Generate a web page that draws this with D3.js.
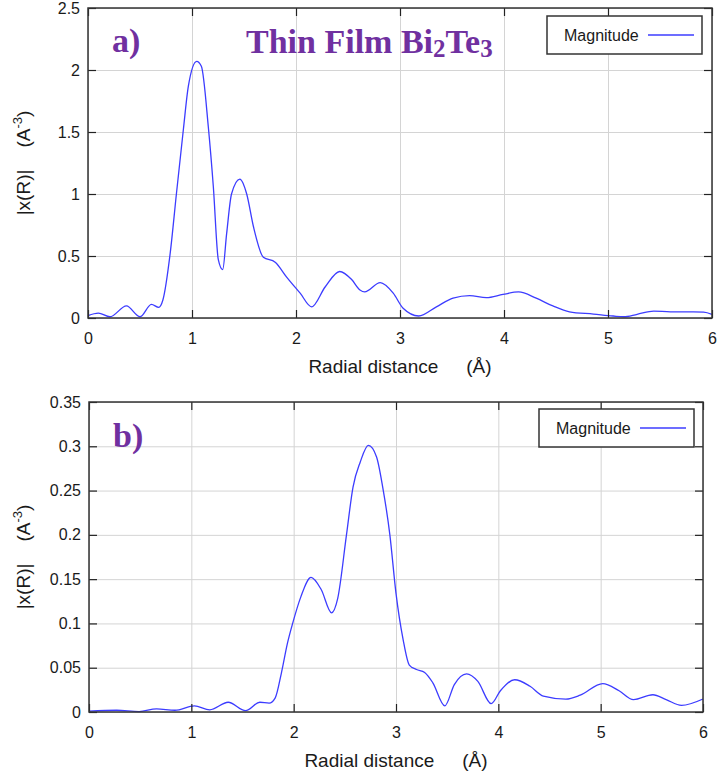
<!DOCTYPE html>
<html>
<head>
<meta charset="utf-8">
<script src="https://cdn.jsdelivr.net/npm/d3@7"></script>
<style>
  body { margin: 0; background: #fff; }
  svg text { font-family: "Liberation Sans", Arial, sans-serif; fill: #1a1a1a; }
  svg text.serif { font-family: "Liberation Serif", "Times New Roman", serif; font-weight: bold; fill: #7030a0; }
</style>
</head>
<body>
<div id="chart"></div>
<script>
// values
var xTicks = [0, 1, 2, 3, 4, 5, 6];

var aYTicks = [0, 0.5, 1, 1.5, 2, 2.5];
var aR = [0, 0.1, 0.21, 0.37, 0.5, 0.61, 0.68, 0.72, 0.79, 0.85, 0.917, 0.965, 1.045, 1.09, 1.157, 1.205, 1.253, 1.295, 1.333, 1.38, 1.46, 1.526, 1.59, 1.686, 1.80, 1.91, 2.04, 2.15, 2.28, 2.42, 2.535, 2.615, 2.66, 2.81, 2.935, 3.03, 3.18, 3.35, 3.51, 3.67, 3.83, 3.99, 4.14, 4.31, 4.47, 4.63, 4.86, 5.05, 5.15, 5.28, 5.44, 5.60, 5.82, 5.92, 6.0];
var aMag = [0.02, 0.04, 0.01, 0.097, 0.01, 0.11, 0.086, 0.145, 0.52, 1.0, 1.52, 1.87, 2.07, 2.03, 1.54, 1.06, 0.47, 0.39, 0.68, 1.0, 1.12, 1.0, 0.74, 0.49, 0.45, 0.33, 0.2, 0.09, 0.25, 0.375, 0.31, 0.226, 0.21, 0.285, 0.2, 0.078, 0.016, 0.09, 0.16, 0.18, 0.164, 0.19, 0.21, 0.16, 0.097, 0.05, 0.032, 0.016, 0.01, 0.03, 0.056, 0.05, 0.05, 0.047, 0.03];

var bYTicks = [0, 0.05, 0.1, 0.15, 0.2, 0.25, 0.3, 0.35];
var bR = [0, 0.27, 0.49, 0.66, 0.84, 1.03, 1.18, 1.36, 1.53, 1.67, 1.76, 1.82, 1.88, 1.94, 1.99, 2.07, 2.17, 2.27, 2.37, 2.43, 2.516, 2.58, 2.65, 2.73, 2.81, 2.87, 2.94, 3.0, 3.07, 3.13, 3.2, 3.28, 3.36, 3.477, 3.57, 3.69, 3.8, 3.93, 4.02, 4.16, 4.31, 4.44, 4.66, 4.80, 5.02, 5.18, 5.32, 5.51, 5.64, 5.79, 6.0];
var bMag = [0.001, 0.002, 0.0005, 0.0035, 0.002, 0.007, 0.0025, 0.011, 0.0015, 0.011, 0.01, 0.016, 0.044, 0.078, 0.1, 0.13, 0.152, 0.138, 0.112, 0.128, 0.2, 0.254, 0.282, 0.301, 0.288, 0.254, 0.2, 0.134, 0.0815, 0.053, 0.048, 0.0447, 0.033, 0.007, 0.031, 0.043, 0.0345, 0.0094, 0.024, 0.0364, 0.029, 0.018, 0.0146, 0.019, 0.032, 0.024, 0.0139, 0.0195, 0.014, 0.0075, 0.0147];

var lineBlue = "#3c3cff";

var svg = d3.select("#chart").append("svg")
    .attr("width", 720).attr("height", 773);

function drawPanel(p) {
    var w = p.right - p.left, h = p.bottom - p.top;
    var x = d3.scaleLinear().domain([0, 6]).range([0, w]);
    var y = d3.scaleLinear().domain([0, p.yMax]).range([h, 0]);
    var g = svg.append("g").attr("transform", "translate(" + p.left + "," + p.top + ")");

    // grid
    g.append("g").attr("transform", "translate(0," + h + ")")
        .call(d3.axisBottom(x).tickValues(xTicks).tickSize(-h).tickFormat(""))
        .call(function (s) { s.select(".domain").remove(); s.selectAll("line").attr("stroke", "#d4d4d4"); });
    g.append("g")
        .call(d3.axisLeft(y).tickValues(p.yTicks).tickSize(-w).tickFormat(""))
        .call(function (s) { s.select(".domain").remove(); s.selectAll("line").attr("stroke", "#d4d4d4"); });

    // the curve
    var line = d3.line()
        .x(function (d) { return x(d[0]); })
        .y(function (d) { return y(d[1]); })
        .curve(d3.curveMonotoneX);
    g.append("path")
        .datum(d3.zip(p.r, p.mag))
        .attr("d", line)
        .attr("fill", "none")
        .attr("stroke", lineBlue)
        .attr("stroke-width", 1.3);

    // axes, ticks pointing inside
    function style(s) {
        s.select(".domain").remove();
        s.selectAll("line").attr("stroke", "#222").attr("stroke-width", 1.2);
        s.selectAll("text").attr("font-size", 16);
    }
    var plain = function (d) { return String(d); };
    g.append("g").attr("transform", "translate(0," + h + ")")
        .call(d3.axisBottom(x).tickValues(xTicks).tickSize(-8).tickPadding(15).tickFormat(plain)).call(style);
    g.append("g")
        .call(d3.axisTop(x).tickValues(xTicks).tickSize(-8).tickFormat("")).call(style);
    g.append("g")
        .call(d3.axisLeft(y).tickValues(p.yTicks).tickSize(-8).tickPadding(8).tickFormat(plain)).call(style);
    g.append("g").attr("transform", "translate(" + w + ",0)")
        .call(d3.axisRight(y).tickValues(p.yTicks).tickSize(-8).tickFormat("")).call(style);

    // frame
    g.append("rect").attr("width", w).attr("height", h)
        .attr("fill", "none").attr("stroke", "#333").attr("stroke-width", 1.5);

    // axis titles
    var xt = svg.append("text")
        .attr("x", p.left + x(3)).attr("y", p.bottom + p.xTitleDy)
        .attr("text-anchor", "middle").attr("font-size", 19);
    xt.append("tspan").text("Radial distance");
    xt.append("tspan").attr("dx", 28).text("(Å)");

    var yt = svg.append("text")
        .attr("transform", "translate(30," + (p.top + h / 2) + ") rotate(-90)")
        .attr("text-anchor", "middle").attr("font-size", 19);
    yt.append("tspan").text("|x(R)|");
    yt.append("tspan").attr("dx", 22).text("(A");
    yt.append("tspan").attr("dy", -8).attr("font-size", 13).text("-3");
    yt.append("tspan").attr("dy", 8).text(")");

    // legend
    var lg = svg.append("g").attr("transform", "translate(" + p.legX + "," + p.legY + ")");
    lg.append("rect").attr("width", 155).attr("height", 38)
        .attr("fill", "#fff").attr("stroke", "#333").attr("stroke-width", 1.5);
    lg.append("text").attr("x", 17).attr("y", 25).attr("font-size", 16).text("Magnitude");
    lg.append("line").attr("x1", 101).attr("x2", 147).attr("y1", 19).attr("y2", 19)
        .attr("stroke", lineBlue).attr("stroke-width", 1.3);

    // panel letter
    svg.append("text").attr("class", "serif")
        .attr("x", p.left + 24).attr("y", p.letterY)
        .attr("font-size", 34).text(p.letter);

    return g;
}

drawPanel({ left: 88, right: 712, top: 8, bottom: 318, yMax: 2.5, yTicks: aYTicks,
            r: aR, mag: aMag, xTitleDy: 55, legX: 547, legY: 16, letter: "a)", letterY: 52 });
drawPanel({ left: 89, right: 703, top: 402, bottom: 712, yMax: 0.35, yTicks: bYTicks,
            r: bR, mag: bMag, xTitleDy: 55, legX: 539, legY: 409, letter: "b)", letterY: 447 });

// title of panel a
var title = svg.append("text").attr("class", "serif")
    .attr("x", 246).attr("y", 53).attr("font-size", 34);
title.append("tspan").text("Thin Film Bi");
title.append("tspan").attr("font-size", 25).attr("dy", 4).text("2");
title.append("tspan").attr("dy", -4).text("Te");
title.append("tspan").attr("font-size", 25).attr("dy", 4).text("3");
</script>
</body>
</html>
